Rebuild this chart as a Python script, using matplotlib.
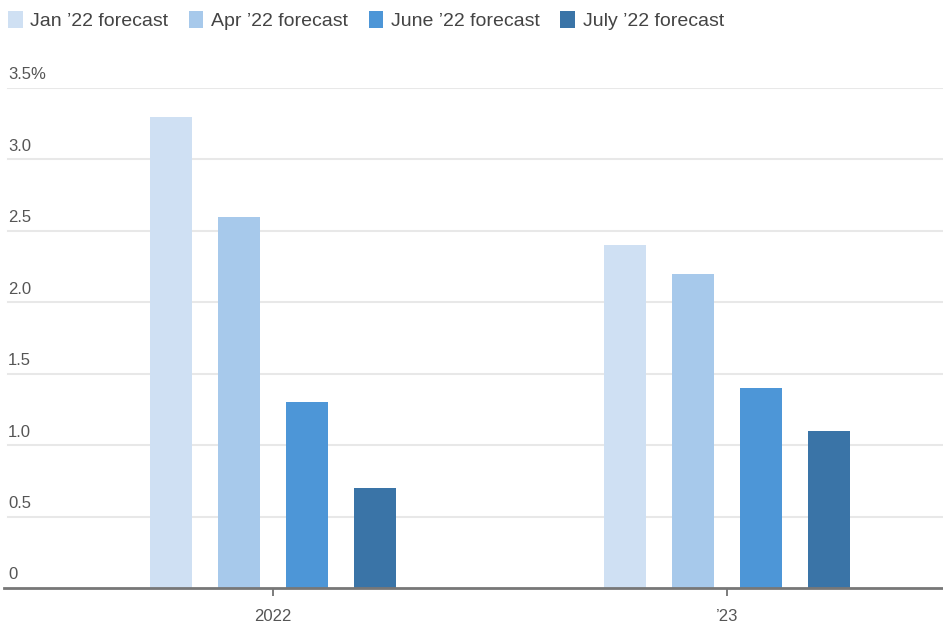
import matplotlib
matplotlib.use("Agg")
import matplotlib.pyplot as plt
from matplotlib.patches import Patch
import numpy as np
from matplotlib import font_manager

names = {f.name for f in font_manager.fontManager.ttflist}
fam = ['Liberation Sans Narrow', 'DejaVu Sans'] if 'Liberation Sans Narrow' in names else ['Liberation Sans', 'DejaVu Sans']
plt.rcParams['font.family'] = fam

categories = ["2022", "\u201923"]
series = ["Jan \u201922 forecast", "Apr \u201922 forecast", "June \u201922 forecast", "July \u201922 forecast"]
values = [
    [3.3, 2.4],
    [2.6, 2.2],
    [1.3, 1.4],
    [0.7, 1.1],
]
colors = ["#cfe0f3", "#a7c9eb", "#4d96d7", "#3a74a7"]
yticks = [0, 0.5, 1.0, 1.5, 2.0, 2.5, 3.0, 3.5]
ytick_labels = ["0", "0.5", "1.0", "1.5", "2.0", "2.5", "3.0", "3.5%"]

W, H = 943, 628
fig = plt.figure(figsize=(W / 100, H / 100), dpi=100)
ax = fig.add_axes([4 / W, 1 - 588 / H, (943 - 4) / W, (588 - 88) / H])

x = np.arange(len(categories))
step = 0.1496
width = 0.0925
for i, (s, vals, c) in enumerate(zip(series, values, colors)):
    ax.bar(x + (i - 1.5) * step, vals, width=width, color=c, label=s, zorder=2)

ax.set_ylim(0, 3.5)
ax.set_xlim(-0.593, 1.476)
ax.set_yticks(yticks)
ax.set_yticklabels([])
ax.tick_params(axis='y', length=0)
for yv in yticks[1:]:
    ax.axhline(yv, xmin=4 / 939, color="#e8e8e8", lw=1.5, zorder=1)
for yv, lab in zip(yticks, ytick_labels):
    ax.annotate(lab, xy=(0, yv), xycoords=('axes fraction', 'data'),
                xytext=(3, 4), textcoords='offset points',
                ha='left', va='bottom', fontsize=12, color="#555555")

ax.set_xticks(x)
ax.set_xticklabels(categories, fontsize=12, color="#555555")
ax.tick_params(axis='x', length=6, width=1.2, color="#666666", pad=9)

for sp in ["top", "right", "left"]:
    ax.spines[sp].set_visible(False)
ax.spines["bottom"].set_color("#777777")
ax.spines["bottom"].set_linewidth(2)
ax.spines["bottom"].set_zorder(3)

handles = [Patch(facecolor=c, label=s) for s, c in zip(series, colors)]
fig.legend(handles=handles, loc='upper left', bbox_to_anchor=(8 / W, 1 - 11 / H),
           ncol=4, frameon=False, fontsize=14, handlelength=0.75, handleheight=1.0,
           handletextpad=0.4, columnspacing=1.05, labelcolor="#444444",
           borderaxespad=0, borderpad=0)

fig.savefig("out.png", dpi=100)
